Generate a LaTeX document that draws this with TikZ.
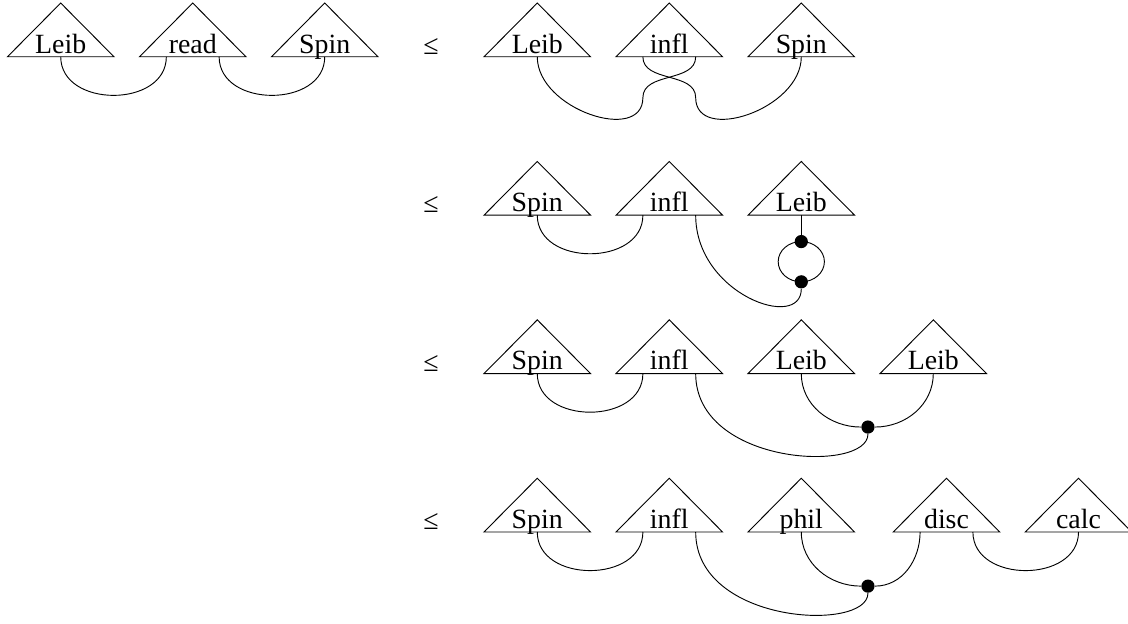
\documentclass[tikz,border=0pt]{standalone}
\usepackage{fontspec}
\setmainfont{Liberation Serif}

\tikzset{
  box/.style={inner sep=0pt, minimum width=1.6cm, text height=0.75cm, text depth=0.05cm, anchor=south, font=\fontsize{12}{14}\selectfont},
  rel/.style={inner sep=0pt, font=\fontsize{12}{14}\selectfont},
  blob/.style={circle, fill=black, inner sep=0pt, minimum size=0.2cm},
  cup/.style={out=-90, in=-90, looseness=1.25}
}

\begin{document}
\begin{tikzpicture}

\useasboundingbox (0,0) rectangle (17.09,-9.44);

\node (A1) [box] at (0.92,-0.86) {Leib};
\node (A2) [box] at (2.92,-0.86) {read};
\node (A3) [box] at (4.92,-0.86) {Spin};
\node (B1) [box] at (8.14,-0.86) {Leib};
\node (B2) [box] at (10.14,-0.86) {infl};
\node (B3) [box] at (12.14,-0.86) {Spin};
\node (C1) [box] at (8.14,-3.26) {Spin};
\node (C2) [box] at (10.14,-3.26) {infl};
\node (C3) [box] at (12.14,-3.26) {Leib};
\node (D1) [box] at (8.14,-5.66) {Spin};
\node (D2) [box] at (10.14,-5.66) {infl};
\node (D3) [box] at (12.14,-5.66) {Leib};
\node (D4) [box] at (14.14,-5.66) {Leib};
\node (E1) [box] at (8.14,-8.06) {Spin};
\node (E2) [box] at (10.14,-8.06) {infl};
\node (E3) [box] at (12.14,-8.06) {phil};
\node (E4) [box] at (14.34,-8.06) {disc};
\node (E5) [box] at (16.34,-8.06) {calc};

\node (LE1) [rel] at (6.53,-0.70) {≤};
\node (LE2) [rel] at (6.53,-3.10) {≤};
\node (LE3) [rel] at (6.53,-5.50) {≤};
\node (LE4) [rel] at (6.53,-7.90) {≤};

\node (U) [blob] at (12.14,-3.66) {};
\node (V) [blob] at (12.14,-4.27) {};
\node (W) [blob] at (13.15,-6.47) {};
\node (X) [blob] at (13.15,-8.88) {};

%triangles
\foreach \n in {A1,A2,A3,B1,B2,B3,C1,C2,C3,D1,D2,D3,D4,E1,E2,E3,E4,E5}
  \draw (\n.south west) -- (\n.north) -- (\n.south east) -- cycle;

%wires:
\draw (A1.south) to[cup] ([xshift=-0.4cm]A2.south);
\draw ([xshift=0.4cm]A2.south) to[cup] (A3.south);

\draw (B1.south) .. controls +(0,-0.8) and +(0,-0.7) .. ([shift={(-0.4,-0.62)}]B2.south) to[out=90,in=-90] ([xshift=0.4cm]B2.south);
\draw (B3.south) .. controls +(0,-0.8) and +(0,-0.7) .. ([shift={(0.4,-0.62)}]B2.south) to[out=90,in=-90] ([xshift=-0.4cm]B2.south);

\draw (C1.south) to[cup] ([xshift=-0.4cm]C2.south);
\draw (C3.south) -- (U);
\draw (U.center) arc[start angle=90, end angle=450, x radius=0.35, y radius=0.305];
\draw ([xshift=0.4cm]C2.south) .. controls +(0,-1.2) and +(0,-0.75) .. (V);

\draw (D1.south) to[cup] ([xshift=-0.4cm]D2.south);
\draw (D3.south) to[out=-90,in=180] (W);
\draw (D4.south) to[out=-90,in=0] (W);
\draw ([xshift=0.4cm]D2.south) .. controls +(0,-1.4) and +(0,-0.7) .. (W);

\draw (E1.south) to[cup] ([xshift=-0.4cm]E2.south);
\draw (E3.south) to[out=-90,in=180] (X);
\draw ([xshift=-0.4cm]E4.south) to[out=-90,in=0] (X);
\draw ([xshift=0.4cm]E2.south) .. controls +(0,-1.4) and +(0,-0.7) .. (X);
\draw ([xshift=0.4cm]E4.south) to[cup] (E5.south);

\end{tikzpicture}
\end{document}
